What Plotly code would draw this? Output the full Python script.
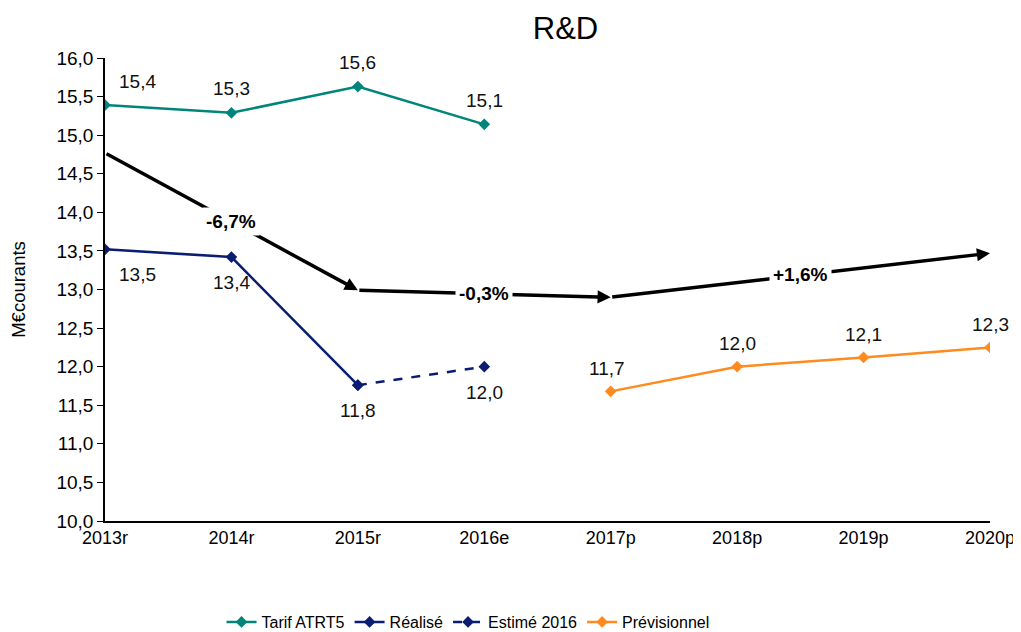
import plotly.graph_objects as go

categories = ["2013r", "2014r", "2015r", "2016e", "2017p", "2018p", "2019p", "2020p"]
tarif_vals = [15.39, 15.29, 15.63, 15.14]
realise_vals = [13.52, 13.42, 11.76]
estime_vals = [11.76, 12.00]
prev_vals = [11.68, 12.00, 12.12, 12.25]
tarif_labels = ["15,4", "15,3", "15,6", "15,1"]
realise_labels = ["13,5", "13,4", "11,8"]
estime_labels = ["12,0"]
prev_labels = ["11,7", "12,0", "12,1", "12,3"]
trend_points = [(0, 14.77), (2, 12.99), (4, 12.90), (7, 13.47)]
trend_labels = ["-6,7%", "-0,3%", "+1,6%"]
trend_label_pos = [(1.0, 13.88), (3.0, 12.95), (5.5, 13.19)]

x_tarif = [0, 1, 2, 3]
x_real = [0, 1, 2]
x_est = [2, 3]
x_prev = [4, 5, 6, 7]

TEAL = "#00857A"
NAVY = "#0A1D73"
ORANGE = "#FF8A1F"
FONT = "Liberation Sans, Arial, sans-serif"

# page body has an 8px margin: figure is drawn at (8, 8)
W, H = 1013, 624

fig = go.Figure()
fig.add_trace(go.Scatter(x=x_tarif, y=tarif_vals, mode="lines+markers", name="Tarif ATRT5",
                         line=dict(color=TEAL, width=2.5), marker=dict(symbol="diamond", size=9, color=TEAL)))
fig.add_trace(go.Scatter(x=x_real, y=realise_vals, mode="lines+markers", name="Réalisé",
                         line=dict(color=NAVY, width=2.5), marker=dict(symbol="diamond", size=9, color=NAVY)))
fig.add_trace(go.Scatter(x=x_est, y=estime_vals, mode="lines+markers", name="Estimé 2016",
                         line=dict(color=NAVY, width=2.5, dash="dash"), marker=dict(symbol="diamond", size=9, color=NAVY)))
fig.add_trace(go.Scatter(x=x_prev, y=prev_vals, mode="lines+markers", name="Prévisionnel",
                         line=dict(color=ORANGE, width=2.5), marker=dict(symbol="diamond", size=9, color=ORANGE)))

annotations = []
lab_font = dict(family=FONT, size=19, color="#111111")
for i, (x, y, t) in enumerate(zip(x_tarif, tarif_vals, tarif_labels)):
    annotations.append(dict(x=x, y=y, text=t, showarrow=False, font=lab_font,
                            xshift=32 if i == 0 else 0, yshift=24))
for i, (x, y, t) in enumerate(zip(x_real, realise_vals, realise_labels)):
    annotations.append(dict(x=x, y=y, text=t, showarrow=False, font=lab_font,
                            xshift=32 if i == 0 else 0, yshift=-25))
for x, y, t in zip(x_est[1:], estime_vals[1:], estime_labels):
    annotations.append(dict(x=x, y=y, text=t, showarrow=False, font=lab_font, yshift=-26))
for i, (x, y, t) in enumerate(zip(x_prev, prev_vals, prev_labels)):
    annotations.append(dict(x=x, y=y, text=t, showarrow=False, font=lab_font,
                            xshift=-4 if i == 0 else 0, yshift=23))

# trend arrows
for (x0, y0), (x1, y1) in zip(trend_points[:-1], trend_points[1:]):
    annotations.append(dict(x=x1, y=y1, ax=x0, ay=y0, xref="x", yref="y", axref="x", ayref="y",
                            text="", showarrow=True, arrowhead=2, arrowsize=0.75, arrowwidth=3.5,
                            arrowcolor="black", standoff=0))
for (x, y), t in zip(trend_label_pos, trend_labels):
    annotations.append(dict(x=x, y=y, text="<b>" + t + "</b>", showarrow=False,
                            font=dict(family=FONT, size=19, color="black"),
                            bgcolor="white", borderpad=3))

fig.update_layout(
    width=W, height=H,
    margin=dict(l=97, r=W - 982, t=50, b=H - 513, autoexpand=False),
    paper_bgcolor="white", plot_bgcolor="white",
    separators=", ",
    font=dict(family=FONT, size=18, color="black"),
    title=dict(text="R&D", x=557.5 / W, xanchor="center", y=1 - 20 / H, yanchor="middle",
               font=dict(family=FONT, size=31, color="black"), automargin=False),
    showlegend=True,
    legend=dict(orientation="h", x=(460 - 97) / 885, xanchor="center", y=-101 / 463, yanchor="middle",
                font=dict(family=FONT, size=16, color="black"), tracegroupgap=0),
    annotations=annotations,
)
fig.update_xaxes(range=[0, 7], tickvals=list(range(8)), ticktext=categories, showgrid=False,
                 zeroline=False, showline=True, linecolor="black", linewidth=1.5, ticks="",
                 automargin=False, tickfont=dict(family=FONT, size=18, color="black"))
fig.update_yaxes(range=[10, 16], dtick=0.5, tickformat=".1f", showgrid=False, zeroline=False,
                 showline=True, linecolor="black", linewidth=1.5, ticks="outside", ticklen=6,
                 tickcolor="black", automargin=False, tickfont=dict(family=FONT, size=19, color="black"),
                 title=dict(text="M€courants", font=dict(family=FONT, size=18.5, color="black"), standoff=30))

fig.write_html("out.html")
